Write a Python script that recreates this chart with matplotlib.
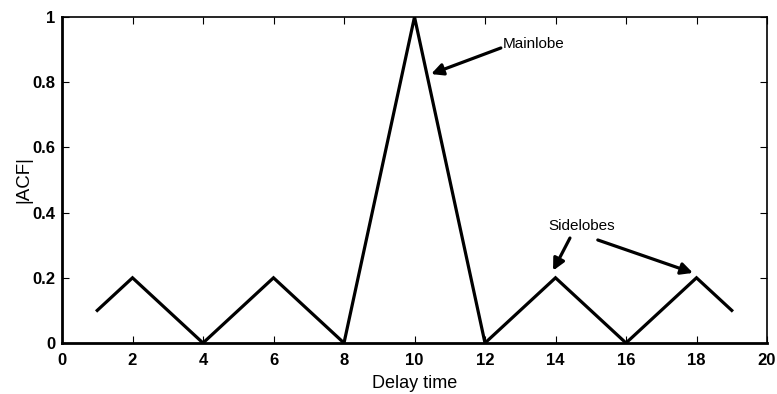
import matplotlib
matplotlib.use('Agg')
import matplotlib.pyplot as plt

# |ACF| of the sequence versus delay
delay = [1, 2, 3, 4, 5, 6, 7, 8, 9, 10, 11, 12, 13, 14, 15, 16, 17, 18, 19]
acf = [0.1, 0.2, 0.1, 0.0, 0.1, 0.2, 0.1, 0.0, 0.5, 1.0,
       0.5, 0.0, 0.1, 0.2, 0.1, 0.0, 0.1, 0.2, 0.1]
x_ticks = [0, 2, 4, 6, 8, 10, 12, 14, 16, 18, 20]
y_ticks = [0, 0.2, 0.4, 0.6, 0.8, 1]
y_ticklabels = ['0', '0.2', '0.4', '0.6', '0.8', '1']

plt.rcParams['font.family'] = ['Liberation Sans', 'DejaVu Sans']

fig = plt.figure(figsize=(7.77, 3.94), dpi=100)
ax = fig.add_axes([62 / 777, 1 - 343 / 394, 705 / 777, 326 / 394])

ax.plot(delay, acf, color='black', lw=2.3, solid_joinstyle='miter')

ax.set_xlim(0, 20)
ax.set_ylim(0, 1)
ax.set_xticks(x_ticks)
ax.set_yticks(y_ticks)
ax.set_yticklabels(y_ticklabels)
ax.tick_params(direction='in', length=5, width=0.8, labelsize=12, top=True, right=True)
ax.tick_params(axis='x', pad=7)
ax.tick_params(axis='y', pad=5)
for lbl in ax.get_xticklabels() + ax.get_yticklabels():
    lbl.set_fontweight('bold')
for side in ['left', 'bottom']:
    ax.spines[side].set_linewidth(2.0)
for side in ['top', 'right']:
    ax.spines[side].set_linewidth(1.2)

ax.set_xlabel('Delay time', fontsize=13, labelpad=5)
ax.set_ylabel('|ACF|', fontsize=13.5, labelpad=0)

arrow = dict(arrowstyle='-|>,head_length=0.7,head_width=0.35', color='black',
             lw=2.3, shrinkA=0, shrinkB=0)
ax.annotate('', xy=(10.47, 0.825), xytext=(12.45, 0.905), arrowprops=arrow)
ax.text(12.5, 0.917, 'Mainlobe', fontsize=11, va='center', ha='left')

ax.text(13.8, 0.36, 'Sidelobes', fontsize=11, va='center', ha='left')
ax.annotate('', xy=(13.93, 0.222), xytext=(14.41, 0.322), arrowprops=arrow)
ax.annotate('', xy=(17.9, 0.215), xytext=(15.2, 0.316), arrowprops=arrow)

fig.savefig('out.png', dpi=100)
